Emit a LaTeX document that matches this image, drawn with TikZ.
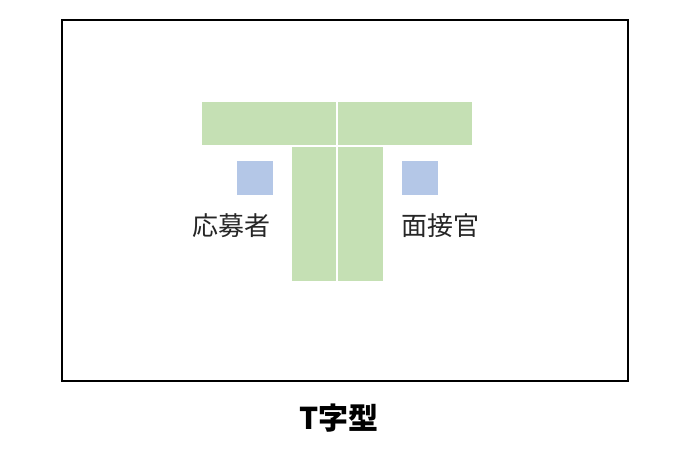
\documentclass[tikz,border=0pt]{standalone}
\usepackage{fontspec}
\newfontfamily\cjk{Noto Sans CJK JP}
\usepackage{tikz}
\usetikzlibrary{positioning}
\usepackage{xcolor}
\definecolor{tablegreen}{RGB}{197, 224, 180}
\definecolor{seatblue}{RGB}{180, 199, 231}
\definecolor{labelgray}{RGB}{38, 38, 38}
\tikzset{
  tablepart/.style={draw=white, fill=tablegreen, line width=1.5pt, inner sep=0pt},
  seat/.style={fill=seatblue, minimum width=36pt, minimum height=34pt, inner sep=0pt},
  role/.style={font=\cjk\fontsize{26}{30}\selectfont, text=labelgray, inner sep=0pt}
}

\begin{document}
\begin{tikzpicture}[x=1pt, y=-1pt]
    \useasboundingbox (0,0) rectangle (700,452);
    % room
    \node[draw=black, line width=1.8pt, minimum width=566pt, minimum height=361pt,
          inner sep=0pt] (room) at (345,200.5) {};
    % T-shaped table
    \node[tablepart, minimum width=136pt, minimum height=45pt] (topL) at (269,123.5) {};
    \node[tablepart, minimum width=136pt, minimum height=45pt] (topR) at (405,123.5) {};
    \node[tablepart, minimum width=46pt, minimum height=136pt] (legL) at (314,214) {};
    \node[tablepart, minimum width=47pt, minimum height=136pt] (legR) at (360.5,214) {};
    % seats
    \node[seat] (seatA) at (254.5,178) {};
    \node[seat] (seatB) at (419.5,178) {};
    \node[role] (applicant) at (231,226) {応募者};
    \node[role] (interviewer) at (440,226) {面接官};
    % caption
    \node[font=\cjk\bfseries\fontsize{30}{34}\selectfont, inner sep=0pt] (caption)
      at (339,418) {T字型};
\end{tikzpicture}
\end{document}
